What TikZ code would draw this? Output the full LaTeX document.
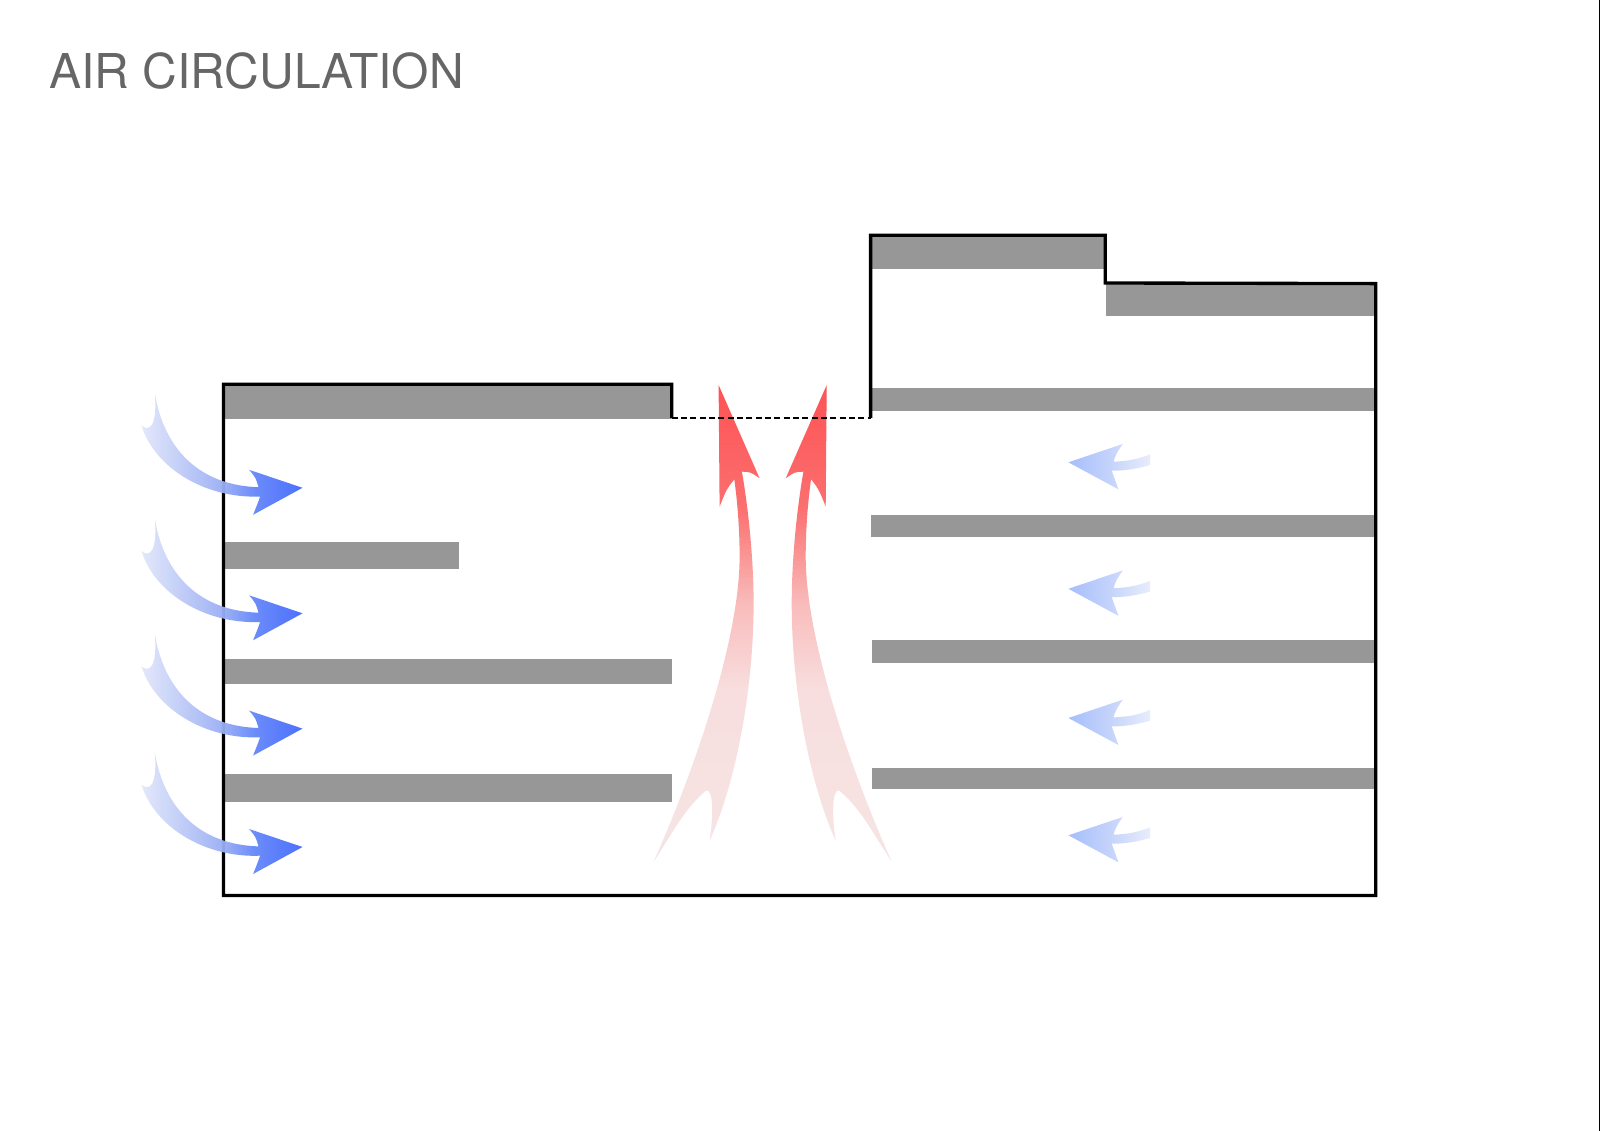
\documentclass[tikz,border=0pt]{standalone}
\usepackage{fontspec}
\setmainfont{TeX Gyre Heros}
\usepackage{xcolor}
\usepackage{tikz}

\definecolor{slabgray}{HTML}{979797}
\definecolor{titlegray}{HTML}{666666}
\definecolor{coolA}{HTML}{E2E7FA}
\definecolor{coolB}{HTML}{9BAFF5}
\definecolor{coolC}{HTML}{6486F9}
\definecolor{coolD}{HTML}{4369FE}
\definecolor{paleA}{HTML}{A6BEFB}
\definecolor{paleB}{HTML}{C4D3FB}
\definecolor{paleC}{HTML}{E8EDFC}
\definecolor{warmA}{HTML}{F6E4E4}
\definecolor{warmB}{HTML}{F8DEDE}
\definecolor{warmC}{HTML}{F9BCBC}
\definecolor{warmD}{HTML}{FB7070}
\definecolor{warmE}{HTML}{FE5254}

\pgfdeclarehorizontalshading{coolflow}{100bp}{color(0bp)=(coolA); color(25bp)=(coolA); color(50bp)=(coolB); color(60bp)=(coolC); color(75bp)=(coolD); color(100bp)=(coolD)}
\pgfdeclarehorizontalshading{paleflow}{100bp}{color(0bp)=(paleA); color(25bp)=(paleA); color(50bp)=(paleB); color(75bp)=(paleC); color(100bp)=(paleC)}
\pgfdeclareverticalshading{warmflow}{100bp}{color(0bp)=(warmA); color(25bp)=(warmA); color(43bp)=(warmB); color(52bp)=(warmC); color(62bp)=(warmD); color(75bp)=(warmE); color(100bp)=(warmE)}

\tikzset{
  slab/.style={fill=slabgray},
  wall/.style={draw=black, line width=0.95pt, line join=miter},
  coolarrow/.style={shading=coolflow, fill opacity=0.95},
  palearrow/.style={shading=paleflow},
  warmarrow/.style={shading=warmflow},
}

\newcommand{\coolpath}{(0,0) -- (-49.4,27) .. controls (-44.7,15.3) .. (-42.4,8.7)
  .. controls (-98.3,11) and (-148.3,-20.7) .. (-161,-62.3)
  .. controls (-153.3,-55.7) and (-145,-60.7) .. (-147.7,-94.7)
  .. controls (-138.3,-37.3) and (-101.7,-2.3) .. (-44,-0.6)
  .. controls (-46.7,-10) .. (-53.4,-18) -- cycle}
\newcommand{\palepath}{(0,0) -- (50,27) .. controls (46,17) .. (43.3,8.4)
  .. controls (58,8.5) and (70,6) .. (81.7,2.7) -- (81.7,-8)
  .. controls (70,-3) and (58,-1) .. (45,-0.6)
  .. controls (48,-9) .. (54.3,-18.3) -- cycle}
\newcommand{\warmpath}{(0,0) -- (41,93.3) .. controls (32,87) .. (23.3,86.7)
  .. controls (30,125) and (35,175) .. (35,218.3)
  .. controls (35,301.7) and (18.3,395) .. (-9,455.7)
  .. controls (-3.3,418.3) and (-7.7,398.3) .. (-15,407.7)
  .. controls (-35,425) and (-48.3,451.7) .. (-65,476.7)
  .. controls (-28.3,395) and (21,258.3) .. (21,171.7)
  .. controls (21,145) and (19,118.3) .. (15.7,94.3)
  .. controls (8,104) .. (1,121.7) -- cycle}

\begin{document}
\begin{tikzpicture}[x=0.01cm, y=-0.01cm]
  \useasboundingbox (0,0) rectangle (1600,1131);
  \fill[white] (0,0) rectangle (1600,1131);
  \fill[black] (1599.2,0) rectangle (1600,1131);

  \node[anchor=base west, inner sep=0pt, text=titlegray, font=\fontsize{13.65}{16}\selectfont] (title) at (48.8,88.6) {AIR CIRCULATION};

  % floor slabs
  \foreach \xa/\ya/\xb/\yb in {223.5/384.5/672.2/419, 223.5/542.3/458.8/569, 223.5/658.7/672.2/684.3, 223.5/774/672.2/801.6,
      870.4/235.2/1105.6/269, 1105.6/284.2/1375.5/315.9, 870.4/388.3/1375.5/410.8, 871.4/514.8/1375.5/537.2, 872.4/640.3/1375.5/662.8, 872.4/767.9/1375.5/789.4} {
    \fill[slab] (\xa,\ya) rectangle (\xb,\yb);
  }

  % warm air going up and out
  \shade[warmarrow, shift={(718.6,385)}] \warmpath;
  \shade[warmarrow, shift={(826.7,385)}, xscale=-1] \warmpath;

  % section outline
  \draw[wall] (671.8,418) -- (671.8,384.2) -- (223.5,384.2) -- (223.5,895.5) -- (1375.8,895.5) -- (1375.8,283.6) -- (1105.3,283) -- (1105.3,235.2) -- (870.6,235.2) -- (870.6,418);
  \draw[line width=0.57pt, dash pattern=on 1.7pt off 0.95pt] (671.8,418) -- (870.6,418);

  % cool air coming in
  \foreach \y in {487.8, 613.3, 728.6, 847} {
    \shade[coolarrow, shift={(302.5,\y)}] \coolpath;
  }
  \foreach \y in {462.3, 588.8, 718, 835.3} {
    \shade[palearrow, shift={(1068.4,\y)}] \palepath;
  }
\end{tikzpicture}
\end{document}
